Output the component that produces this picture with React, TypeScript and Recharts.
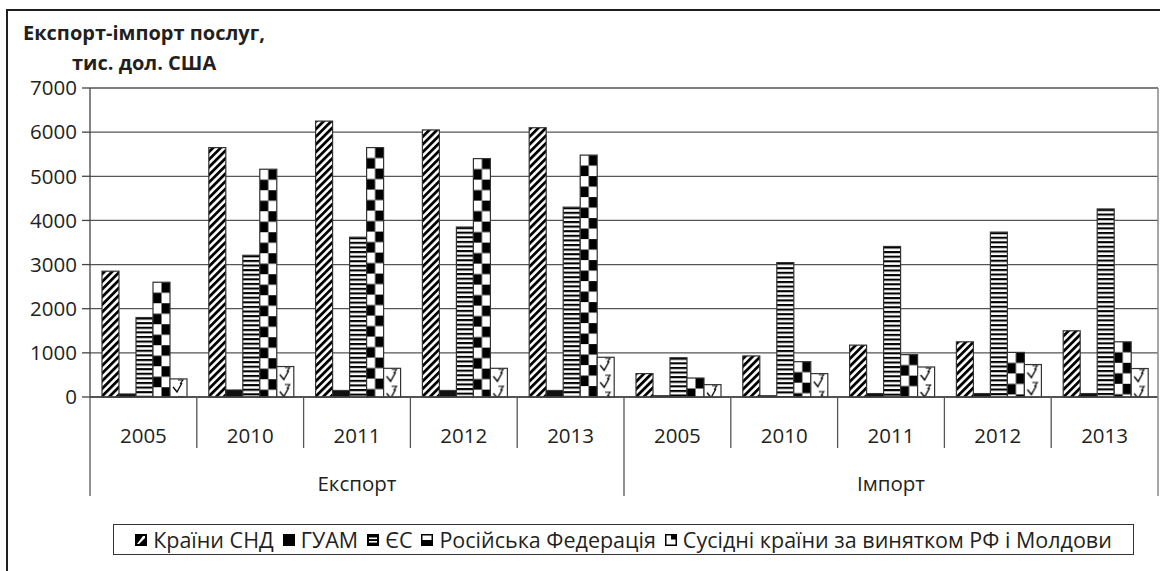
import React from 'react';
import { BarChart, Bar, XAxis, YAxis, CartesianGrid } from 'recharts';

// categories: 5 years for export, 5 for import
const years = ['2005', '2010', '2011', '2012', '2013', '2005', '2010', '2011', '2012', '2013'];
const groups = ['Експорт', 'Імпорт'];

// series, тис. дол. США
const cis = [2850, 5650, 6250, 6050, 6100, 530, 930, 1175, 1250, 1500];
const guam = [70, 160, 150, 150, 150, 30, 30, 80, 80, 80];
const eu = [1800, 3210, 3620, 3850, 4300, 890, 3045, 3410, 3735, 4260];
const russia = [2600, 5160, 5650, 5400, 5480, 430, 800, 960, 1010, 1250];
const neighbours = [410, 690, 650, 650, 900, 280, 530, 680, 735, 645];

const seriesNames = ['Країни СНД', 'ГУАМ', 'ЄС', 'Російська Федерація', 'Сусідні країни за винятком РФ і Молдови'];
const yTicks = [0, 1000, 2000, 3000, 4000, 5000, 6000, 7000];

const data = years.map((y, i) => ({
  key: `${groups[Math.floor(i / 5)]} ${y}`,
  cis: cis[i],
  guam: guam[i],
  eu: eu[i],
  russia: russia[i],
  neighbours: neighbours[i],
}));

const INK = '#231f20';
const FONT = '"Open Sans", sans-serif';
const W = 1160;
const H = 571;
const PLOT_LEFT = 90;
const PLOT_RIGHT = 1158;
const BAND = (PLOT_RIGHT - PLOT_LEFT) / years.length;

function patternFor(kind: string, id: string, x: number, y: number, w: number) {
  if (kind === 'cis') {
    return (
      <pattern id={id} patternUnits="userSpaceOnUse" width={5.4} height={10} patternTransform="rotate(45)">
        <rect width={2.8} height={10} fill="#000" />
      </pattern>
    );
  }
  if (kind === 'eu') {
    return (
      <pattern id={id} patternUnits="userSpaceOnUse" x={x} y={y} width={10} height={4.6}>
        <rect y={0} width={10} height={2.1} fill="#000" />
      </pattern>
    );
  }
  if (kind === 'russia') {
    const h = w / 2;
    const v = 10.5;
    return (
      <pattern id={id} patternUnits="userSpaceOnUse" x={x} y={y} width={w} height={v * 2}>
        <rect x={h} y={0} width={h} height={v} fill="#000" />
        <rect x={0} y={v} width={h} height={v} fill="#000" />
      </pattern>
    );
  }
  // neighbours: sparse hand-drawn marks
  return (
    <pattern id={id} patternUnits="userSpaceOnUse" x={x} y={y} width={w} height={17}>
      <path d="M3 8 L7 13 L12 4" stroke="#000" strokeWidth={1.3} fill="none" />
      <path d="M8 1 L13 1 L10 5" stroke="#000" strokeWidth={1.1} fill="none" />
    </pattern>
  );
}

function makeShape(kind: string) {
  return (props: any) => {
    const { x, y, width, height, index } = props;
    if (!height || height <= 0) return <g />;
    if (kind === 'guam') {
      return <rect x={x} y={y} width={width} height={height} fill="#111" stroke="#333" strokeWidth={1} />;
    }
    const id = `pat-${kind}-${index}`;
    return (
      <g>
        <defs>{patternFor(kind, id, x, y, width)}</defs>
        <rect x={x} y={y} width={width} height={height} fill="#fff" />
        <rect x={x} y={y} width={width} height={height} fill={`url(#${id})`} stroke="#333" strokeWidth={1.2} />
      </g>
    );
  };
}

function CategoryTick(props: any) {
  const { x, y, index } = props;
  const left = x - BAND / 2;
  const right = x + BAND / 2;
  const groupStart = index % 5 === 0;
  return (
    <g>
      <line x1={left} x2={left} y1={y} y2={y + (groupStart ? 99 : 51)} stroke="#555" strokeWidth={1.3} />
      {index === years.length - 1 && (
        <line x1={right} x2={right} y1={y} y2={y + 99} stroke="#888" strokeWidth={1.5} />
      )}
      <text x={x} y={y + 38} textAnchor="middle" dominantBaseline="central" fontSize={20.5} fill={INK} fontFamily={FONT}>
        {years[index]}
      </text>
      {index % 5 === 2 && (
        <text x={x} y={y + 86} textAnchor="middle" dominantBaseline="central" fontSize={20.5} fill={INK} fontFamily={FONT}>
          {groups[Math.floor(index / 5)]}
        </text>
      )}
    </g>
  );
}

function LegendIcon({ i }: { i: number }) {
  const s = 12;
  if (i === 0) {
    return (
      <svg width={s} height={s}>
        <rect x={0.5} y={0.5} width={s - 1} height={s - 1} fill="#000" stroke="#000" />
        <polygon points="2,10 8,2 10,2 10,4 4,10" fill="#fff" />
      </svg>
    );
  }
  if (i === 1) {
    return (
      <svg width={s} height={s}>
        <rect x={0} y={0} width={s} height={s} fill="#000" />
      </svg>
    );
  }
  if (i === 2) {
    return (
      <svg width={s} height={s}>
        <rect x={0.75} y={0.75} width={s - 1.5} height={s - 1.5} fill="#000" stroke="#000" strokeWidth={1.5} />
        <rect x={2} y={3.5} width={8} height={1.6} fill="#fff" />
        <rect x={2} y={7} width={8} height={1.6} fill="#fff" />
      </svg>
    );
  }
  if (i === 3) {
    return (
      <svg width={s} height={s}>
        <rect x={0.75} y={0.75} width={s - 1.5} height={s - 1.5} fill="#fff" stroke="#000" strokeWidth={1.5} />
        <rect x={1} y={6} width={s - 2} height={5} fill="#000" />
      </svg>
    );
  }
  return (
    <svg width={s} height={s}>
      <rect x={0.75} y={0.75} width={s - 1.5} height={s - 1.5} fill="#fff" stroke="#000" strokeWidth={1.5} />
      <rect x={6} y={1} width={5} height={4.5} fill="#000" />
    </svg>
  );
}

export default function App() {
  return (
    <div style={{ position: 'absolute', left: 0, top: 0, width: W, height: H, overflow: 'hidden', background: '#fff', fontFamily: FONT, color: INK }}>
      <div style={{ position: 'absolute', left: 6, top: 9, width: W + 40, height: H + 40, borderTop: `2.5px solid ${INK}`, borderLeft: `2.5px solid ${INK}` }} />
      <div style={{ position: 'absolute', left: 0, top: 0 }}>
        <BarChart width={W} height={H} data={data} margin={{ top: 88, right: 1, bottom: 0, left: 10 }} barCategoryGap={12} barGap={0}>
          <CartesianGrid vertical={false} stroke="#555" strokeWidth={1.3} />
          <XAxis
            dataKey="key"
            interval={0}
            height={174}
            tickLine={false}
            tickSize={0}
            tickMargin={0}
            axisLine={{ stroke: '#444', strokeWidth: 1.3 }}
            tick={<CategoryTick />}
          />
          <YAxis
            domain={[0, 7000]}
            ticks={yTicks}
            interval={0}
            width={80}
            tickSize={8}
            tickMargin={5}
            axisLine={{ stroke: '#444', strokeWidth: 1.3 }}
            tickLine={{ stroke: '#444', strokeWidth: 1.3 }}
            tick={{ fontSize: 20.5, fill: INK, fontFamily: FONT }}
          />
          <YAxis yAxisId="r" orientation="right" width={1} domain={[0, 7000]} tick={false} tickLine={false} axisLine={{ stroke: '#888', strokeWidth: 1.5 }} />
          <Bar dataKey="cis" name={seriesNames[0]} fill="#000" shape={makeShape('cis')} isAnimationActive={false} />
          <Bar dataKey="guam" name={seriesNames[1]} fill="#111" shape={makeShape('guam')} isAnimationActive={false} />
          <Bar dataKey="eu" name={seriesNames[2]} fill="#000" shape={makeShape('eu')} isAnimationActive={false} />
          <Bar dataKey="russia" name={seriesNames[3]} fill="#000" shape={makeShape('russia')} isAnimationActive={false} />
          <Bar dataKey="neighbours" name={seriesNames[4]} fill="#fff" shape={makeShape('neighbours')} isAnimationActive={false} />
        </BarChart>
      </div>
      <div style={{ position: 'absolute', left: 23, top: 18, fontWeight: 700, fontSize: 20, lineHeight: '30px', whiteSpace: 'nowrap' }}>
        Експорт-імпорт послуг,
        <br />
        <span style={{ paddingLeft: 49 }}>тис. дол. США</span>
      </div>
      <div
        style={{
          position: 'absolute', left: 113, top: 524, width: 1021, height: 31, boxSizing: 'border-box',
          border: '1.3px solid #333', display: 'flex', alignItems: 'center', justifyContent: 'center',
          fontSize: 21.5, whiteSpace: 'nowrap',
        }}
      >
        {seriesNames.map((n, i) => (
          <span key={n} style={{ display: 'inline-flex', alignItems: 'center', marginLeft: i === 0 ? 0 : 9 }}>
            <LegendIcon i={i} />
            <span style={{ marginLeft: 6 }}>{n}</span>
          </span>
        ))}
      </div>
    </div>
  );
}
